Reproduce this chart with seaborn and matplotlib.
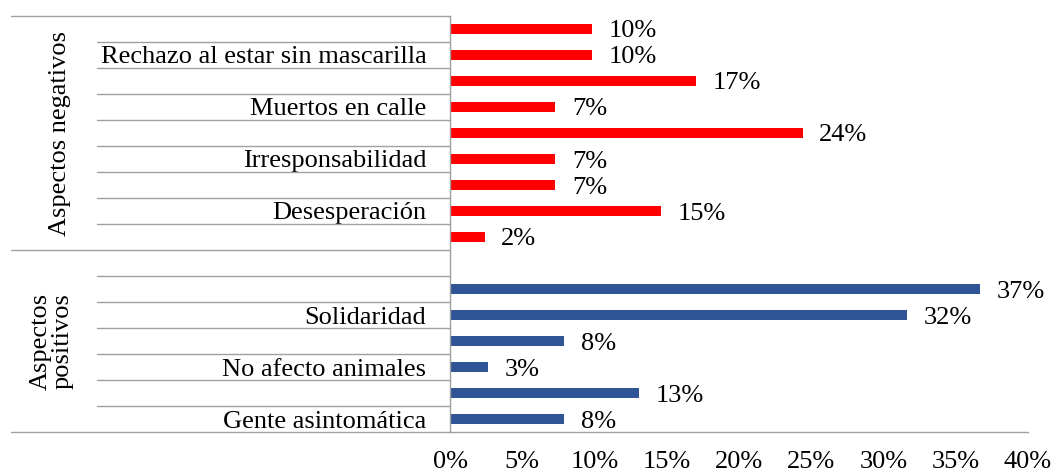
import matplotlib
matplotlib.use('Agg')
import matplotlib.pyplot as plt
import matplotlib.transforms as mtransforms
import seaborn as sns
import pandas as pd

# rows from top to bottom; the empty row separates both groups
labels = [
    "", "Rechazo al estar sin mascarilla", "", "Muertos en calle", "",
    "Irresponsabilidad", "", "Desesperación", "",
    "", "", "Solidaridad", "", "No afecto animales", "", "Gente asintomática",
]
values = [9.8, 9.8, 17.0, 7.3, 24.4, 7.3, 7.3, 14.6, 2.4,
          None, 36.7, 31.6, 7.9, 2.6, 13.1, 7.9]
groups = ["Aspectos negativos"] * 9 + ["Aspectos\npositivos"] * 7
group_colors = {"Aspectos negativos": "#FF0000", "Aspectos\npositivos": "#2F5597"}
x_ticks = [0, 5, 10, 15, 20, 25, 30, 35, 40]

row_ids = [f"r{i}" for i in range(len(labels))]
df = pd.DataFrame({"row": row_ids, "value": values, "group": groups})

sns.set_style("white")
plt.rcParams['font.family'] = ['Liberation Serif', 'DejaVu Serif']
plt.rcParams['text.color'] = 'black'
plt.rcParams['xtick.labelcolor'] = 'black'
plt.rcParams['ytick.labelcolor'] = 'black'
FS = 19

W, H = 1051, 474
fig = plt.figure(figsize=(W / 100, H / 100), dpi=100)
ax = fig.add_axes([450 / W, 1 - 432 / H, 578 / W, 416 / H])

sns.barplot(data=df, x="value", y="row", hue="group", order=row_ids,
            palette=group_colors, dodge=False, legend=False, width=0.42,
            saturation=1, linewidth=0, orient="h", ax=ax)

ax.set_xlim(0, 40)
ax.set_ylim(len(labels) - 0.5, -0.5)
ax.set_xticks(x_ticks)
ax.set_xticklabels([f"{t}%" for t in x_ticks], fontsize=FS)
ax.set_yticks(range(len(labels)))
ax.set_yticklabels(labels, fontsize=FS)
ax.tick_params(axis="y", length=0, pad=17)
ax.tick_params(axis="x", length=5, width=1, color="#A0A0A0", direction="out", pad=9)
ax.set_xlabel("")
ax.set_ylabel("")

for side in ["top", "right"]:
    ax.spines[side].set_visible(False)
for side in ["left", "bottom"]:
    ax.spines[side].set_color("#A0A0A0")
    ax.spines[side].set_linewidth(1)

# data labels
for i, v in enumerate(values):
    if v is None:
        continue
    ax.annotate(f"{round(v)}%", (v, i), xytext=(12, 0), textcoords="offset points",
                va="center_baseline", ha="left", fontsize=FS)

# table-like category lines to the left of the axis
trans = mtransforms.blended_transform_factory(fig.transFigure, ax.transData)
x_axis = 450 / W
x_inner = 97 / W
x_outer = 11 / W
group_edges = [-0.5, 8.5, len(labels) - 0.5]
for k in range(len(labels) + 1):
    y = k - 0.5
    x0 = x_outer if y in group_edges else x_inner
    ax.plot([x0, x_axis], [y, y], transform=trans, color="#A0A0A0", lw=1,
            clip_on=False)

# group labels
fig.text(60 / W, 1 - 133 / H, "Aspectos negativos", rotation=90, ha="center",
         va="center", fontsize=FS)
fig.text(52 / W, 1 - 341 / H, "Aspectos\npositivos", rotation=90, ha="center",
         va="center", fontsize=FS, linespacing=1.0)

fig.savefig("out.png", dpi=100)
